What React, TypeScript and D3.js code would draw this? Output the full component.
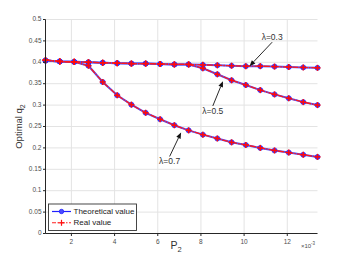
import React from "react";
import * as d3 from "d3";

const W = 350;
const H = 263;
const M = { left: 45.5, right: 32.5, top: 19.5, bottom: 29.5 };

// P2 values (x 10^-3)
const p2 = [0.8, 1.46, 2.13, 2.79, 3.45, 4.12, 4.78, 5.44, 6.11, 6.77, 7.43, 8.09, 8.76, 9.42, 10.08, 10.75, 11.41, 12.07, 12.74, 13.4];

// theoretical optimal q2
const theo03 = [0.404, 0.402, 0.401, 0.4, 0.399, 0.398, 0.397, 0.397, 0.396, 0.395, 0.395, 0.394, 0.393, 0.392, 0.391, 0.391, 0.39, 0.389, 0.388, 0.387];
const theo05 = [0.404, 0.402, 0.401, 0.4, 0.399, 0.398, 0.397, 0.397, 0.396, 0.395, 0.395, 0.386, 0.372, 0.358, 0.347, 0.335, 0.325, 0.316, 0.307, 0.3];
const theo07 = [0.404, 0.402, 0.401, 0.392, 0.354, 0.323, 0.301, 0.282, 0.267, 0.253, 0.241, 0.231, 0.222, 0.213, 0.207, 0.2, 0.194, 0.189, 0.184, 0.179];

// real (simulated) optimal q2
const real03 = [0.405, 0.402, 0.401, 0.4, 0.399, 0.398, 0.397, 0.397, 0.396, 0.395, 0.395, 0.394, 0.393, 0.392, 0.391, 0.391, 0.39, 0.389, 0.388, 0.387];
const real05 = [0.405, 0.402, 0.401, 0.4, 0.399, 0.398, 0.397, 0.397, 0.396, 0.395, 0.395, 0.386, 0.372, 0.358, 0.347, 0.335, 0.325, 0.316, 0.307, 0.3];
const real07 = [0.405, 0.402, 0.401, 0.392, 0.354, 0.323, 0.301, 0.282, 0.267, 0.253, 0.241, 0.231, 0.222, 0.213, 0.207, 0.2, 0.194, 0.189, 0.184, 0.179];

const xTicks = [2, 4, 6, 8, 10, 12];
const yTicks = [0, 0.05, 0.1, 0.15, 0.2, 0.25, 0.3, 0.35, 0.4, 0.45, 0.5];

// annotations: label position and arrow tip (data units)
const notes = [
  { label: "λ=0.3", lx: 11.3, ly: 0.457, tipX: 10.25, tipY: 0.391, fromY: 0.447 },
  { label: "λ=0.5", lx: 8.55, ly: 0.285, tipX: 9.02, tipY: 0.356, fromY: 0.298 },
  { label: "λ=0.7", lx: 6.55, ly: 0.167, tipX: 7.08, tipY: 0.236, fromY: 0.18 },
];

const FONT = "Liberation Sans, Arial, sans-serif";

export default function App() {
  const x = d3.scaleLinear().domain([0.8, 13.4]).range([M.left, W - M.right]);
  const y = d3.scaleLinear().domain([0, 0.5]).range([H - M.bottom, M.top]);
  const line = d3
    .line<number>()
    .x((_, i) => x(p2[i]))
    .y((d) => y(d));

  const theo = [theo03, theo05, theo07];
  const real = [real03, real05, real07];

  return (
    <svg
      width={W}
      height={H}
      style={{ position: "fixed", left: 0, top: 0, background: "#fff" }}
      fontFamily={FONT}
    >
      <rect width={W} height={H} fill="#fff" />
      {/* grid */}
      {xTicks.map((t) => (
        <line key={"gx" + t} x1={x(t)} x2={x(t)} y1={y(0)} y2={y(0.5)} stroke="#e3e3e3" strokeWidth={1} />
      ))}
      {yTicks.map((t) => (
        <line key={"gy" + t} x1={x(0.8)} x2={x(13.4)} y1={y(t)} y2={y(t)} stroke="#e3e3e3" strokeWidth={1} />
      ))}

      {/* theoretical curves */}
      {theo.map((s, k) => (
        <g key={"t" + k}>
          <path d={line(s) ?? ""} fill="none" stroke="#5050ff" strokeWidth={2} />
          {s.map((v, i) => (
            <circle key={i} cx={x(p2[i])} cy={y(v)} r={2.5} fill="#3a3aff" stroke="#2020ff" strokeWidth={0.6} />
          ))}
        </g>
      ))}
      {/* real curves */}
      {real.map((s, k) => (
        <g key={"r" + k}>
          <path d={line(s) ?? ""} fill="none" stroke="#ff1a1a" strokeWidth={1.3} strokeDasharray="6,1,1.5,1" />
          {s.map((v, i) => (
            <g key={i} stroke="#ff0a0a" strokeWidth={1.5}>
              <line x1={x(p2[i]) - 3} x2={x(p2[i]) + 3} y1={y(v)} y2={y(v)} />
              <line x1={x(p2[i])} x2={x(p2[i])} y1={y(v) - 3} y2={y(v) + 3} />
            </g>
          ))}
        </g>
      ))}

      {/* annotations */}
      {notes.map((n) => {
        const x0 = x(n.lx);
        const y0 = y(n.fromY);
        const x1 = x(n.tipX);
        const y1 = y(n.tipY);
        const ang = Math.atan2(y1 - y0, x1 - x0);
        const hl = 6;
        const hw = 2.4;
        const bx = x1 - hl * Math.cos(ang);
        const by = y1 - hl * Math.sin(ang);
        const px = -Math.sin(ang) * hw;
        const py = Math.cos(ang) * hw;
        return (
          <g key={n.label}>
            <line x1={x0} y1={y0} x2={bx} y2={by} stroke="#111" strokeWidth={0.9} />
            <path d={`M${x1},${y1}L${bx + px},${by + py}L${bx - px},${by - py}Z`} fill="#111" />
            <text x={x(n.lx)} y={y(n.ly)} fontSize={8.5} fill="#333" textAnchor="middle" dominantBaseline="middle">
              {n.label}
            </text>
          </g>
        );
      })}

      {/* axes */}
      <line x1={x(0.8)} x2={x(0.8)} y1={y(0)} y2={y(0.5)} stroke="#262626" strokeWidth={1} />
      <line x1={x(0.8)} x2={x(13.4)} y1={y(0)} y2={y(0)} stroke="#262626" strokeWidth={1} />
      {yTicks.map((t) => (
        <g key={"yt" + t}>
          <line x1={x(0.8) - 2.5} x2={x(0.8)} y1={y(t)} y2={y(t)} stroke="#262626" />
          <text x={x(0.8) - 4} y={y(t)} fontSize={6.5} fill="#4d4d4d" textAnchor="end" dominantBaseline="middle">
            {d3.format("~g")(t)}
          </text>
        </g>
      ))}
      {xTicks.map((t) => (
        <g key={"xt" + t}>
          <line x1={x(t)} x2={x(t)} y1={y(0)} y2={y(0) + 2.5} stroke="#262626" />
          <text x={x(t)} y={y(0) + 9} fontSize={6.5} fill="#4d4d4d" textAnchor="middle" dominantBaseline="middle">
            {t}
          </text>
        </g>
      ))}
      <text x={308} y={248} fontSize={6} fill="#4d4d4d" textAnchor="middle">
        ×10<tspan dy={-3} fontSize={4.5}>-3</tspan>
      </text>
      <text x={176} y={249} fontSize={10.5} fill="#333" textAnchor="middle">
        P<tspan dy={3} fontSize={7.5}>2</tspan>
      </text>
      <text transform={`translate(22,${y(0.25)}) rotate(-90)`} fontSize={9.5} fill="#333" textAnchor="middle">
        Optimal q<tspan dy={3} fontSize={7}>2</tspan>
      </text>

      {/* legend */}
      <g>
        <rect x={48.5} y={204} width={88} height={26.5} fill="#fff" stroke="#333" strokeWidth={0.9} />
        <line x1={52} x2={71} y1={211.5} y2={211.5} stroke="#2020ff" strokeWidth={1.2} />
        <circle cx={61.5} cy={211.5} r={2.2} fill="#4d4dff" stroke="#2020ff" strokeWidth={0.8} />
        <text x={73.5} y={211.5} fontSize={8} fill="#222" dominantBaseline="middle">
          Theoretical value
        </text>
        <line x1={52} x2={71} y1={222.8} y2={222.8} stroke="#ff2020" strokeWidth={1.1} strokeDasharray="4,1.5,1.5,1.5" />
        <line x1={58.5} x2={64.5} y1={222.8} y2={222.8} stroke="#ff1010" strokeWidth={1.2} />
        <line x1={61.5} x2={61.5} y1={219.8} y2={225.8} stroke="#ff1010" strokeWidth={1.2} />
        <text x={73.5} y={222.8} fontSize={8} fill="#222" dominantBaseline="middle">
          Real value
        </text>
      </g>
    </svg>
  );
}
